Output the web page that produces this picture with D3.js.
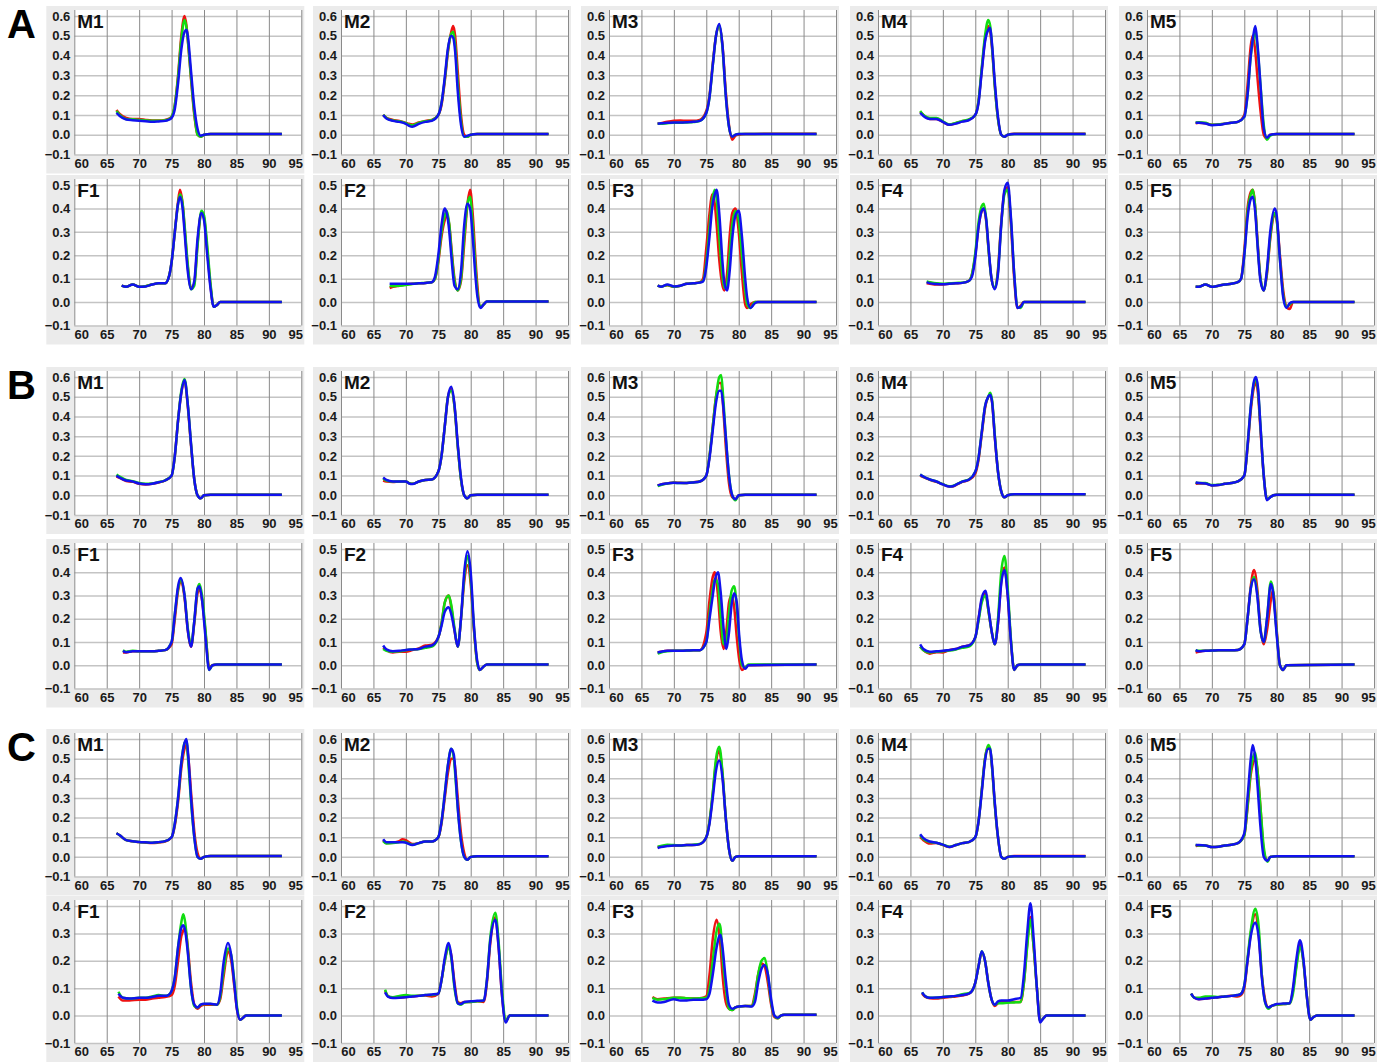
<!DOCTYPE html>
<html>
<head>
<meta charset="utf-8">
<script src="https://cdn.jsdelivr.net/npm/d3@7"></script>
<style>
  body { margin: 0; background: #fff; }
  text { font-family: "Liberation Sans", Arial, sans-serif; font-weight: bold; }
</style>
</head>
<body>
<svg width="1390" height="1063"></svg>
<script>
// ---- tick labels / names ----
const xTicks = [60, 65, 70, 75, 80, 85, 90, 95];
const yTicksM = [-0.1, 0, 0.1, 0.2, 0.3, 0.4, 0.5, 0.6];
const yTicksF = [-0.1, 0, 0.1, 0.2, 0.3, 0.4, 0.5];
const yTicksFC = [-0.1, 0, 0.1, 0.2, 0.3, 0.4];
const groups = ["A", "B", "C"];
const maleNames = ["M1", "M2", "M3", "M4", "M5"];
const femaleNames = ["F1", "F2", "F3", "F4", "F5"];
const seriesColors = ["#ee1111", "#11dd11", "#1111ee"]; // red, green, blue

// ---- melt curves: [temperature, red, green, blue] per panel ----
const A_M1 = [
  [66.5, 67, 68, 69, 70, 71, 72, 73, 74, 74.5, 75, 75.5, 76, 76.5, 77, 77.3, 77.5, 78, 78.5, 79, 79.5, 80, 81, 92],
  [0.125, 0.105, 0.085, 0.08, 0.08, 0.075, 0.072, 0.072, 0.075, 0.08, 0.09, 0.15, 0.3, 0.5, 0.6, 0.55, 0.48, 0.28, 0.1, 0.0, -0.01, 0.0, 0.003, 0.003],
  [0.12, 0.1, 0.08, 0.078, 0.075, 0.072, 0.07, 0.07, 0.073, 0.078, 0.09, 0.15, 0.29, 0.48, 0.58, 0.54, 0.48, 0.29, 0.11, 0.0, -0.01, 0.0, 0.003, 0.003],
  [0.11, 0.095, 0.077, 0.073, 0.07, 0.068, 0.065, 0.067, 0.07, 0.075, 0.085, 0.13, 0.26, 0.43, 0.52, 0.53, 0.5, 0.32, 0.14, 0.03, -0.005, 0.0, 0.003, 0.003]
];
const A_M2 = [
  [66.5, 67, 68, 69, 70, 70.5, 71, 72, 73, 74, 75, 75.5, 76, 76.5, 77, 77.3, 77.6, 78, 78.5, 79, 79.5, 80, 81, 92],
  [0.10, 0.085, 0.075, 0.07, 0.06, 0.055, 0.052, 0.062, 0.07, 0.075, 0.1, 0.15, 0.27, 0.42, 0.52, 0.55, 0.5, 0.32, 0.1, 0.0, -0.01, 0.0, 0.003, 0.003],
  [0.10, 0.085, 0.072, 0.068, 0.058, 0.05, 0.048, 0.06, 0.068, 0.073, 0.1, 0.16, 0.28, 0.43, 0.51, 0.52, 0.45, 0.26, 0.07, -0.01, -0.01, 0.0, 0.003, 0.003],
  [0.10, 0.082, 0.07, 0.065, 0.055, 0.045, 0.04, 0.055, 0.065, 0.07, 0.1, 0.16, 0.29, 0.44, 0.5, 0.49, 0.42, 0.22, 0.05, -0.01, -0.005, 0.0, 0.003, 0.003]
];
const A_M3 = [
  [67.5, 68, 69, 70, 71, 72, 73, 74, 75, 75.5, 76, 76.5, 77, 77.5, 78, 78.5, 79, 79.5, 80, 81, 85, 92],
  [0.055, 0.058, 0.065, 0.07, 0.072, 0.07, 0.07, 0.075, 0.12, 0.2, 0.36, 0.5, 0.55, 0.45, 0.22, 0.05, -0.025, -0.005, 0.0, 0.003, 0.005, 0.005],
  [0.055, 0.055, 0.058, 0.06, 0.06, 0.062, 0.064, 0.07, 0.11, 0.19, 0.35, 0.5, 0.55, 0.44, 0.2, 0.04, -0.01, 0.0, 0.003, 0.003, 0.003, 0.003],
  [0.055, 0.058, 0.06, 0.062, 0.062, 0.063, 0.065, 0.07, 0.11, 0.19, 0.35, 0.5, 0.56, 0.45, 0.2, 0.04, -0.01, 0.0, 0.003, 0.003, 0.003, 0.003]
];
const A_M4 = [
  [66.5, 67, 68, 69, 70, 71, 72, 73, 74, 75, 75.5, 76, 76.5, 77, 77.3, 77.6, 78, 78.5, 79, 79.5, 80, 81, 92],
  [0.115, 0.1, 0.08, 0.08, 0.065, 0.05, 0.058, 0.068, 0.075, 0.1, 0.17, 0.33, 0.48, 0.55, 0.52, 0.43, 0.25, 0.08, 0.0, -0.01, 0.0, 0.005, 0.005],
  [0.12, 0.1, 0.085, 0.085, 0.068, 0.052, 0.06, 0.07, 0.078, 0.1, 0.17, 0.34, 0.5, 0.58, 0.55, 0.44, 0.25, 0.08, 0.0, -0.01, 0.0, 0.003, 0.003],
  [0.11, 0.095, 0.08, 0.08, 0.065, 0.05, 0.056, 0.066, 0.073, 0.1, 0.16, 0.32, 0.47, 0.53, 0.54, 0.45, 0.27, 0.09, 0.0, -0.01, 0.0, 0.003, 0.003]
];
const A_M5 = [
  [67.5, 68, 69, 70, 71, 72, 73, 74, 75, 75.5, 76, 76.3, 76.7, 77, 77.5, 78, 78.5, 79, 80, 92],
  [0.058, 0.06, 0.058, 0.05, 0.052, 0.056, 0.06, 0.065, 0.1, 0.25, 0.45, 0.5, 0.42, 0.3, 0.12, 0.0, -0.02, 0.0, 0.003, 0.003],
  [0.062, 0.063, 0.06, 0.05, 0.052, 0.056, 0.06, 0.065, 0.09, 0.2, 0.4, 0.47, 0.52, 0.45, 0.25, 0.05, -0.025, -0.005, 0.003, 0.003],
  [0.06, 0.06, 0.057, 0.048, 0.05, 0.055, 0.06, 0.065, 0.09, 0.2, 0.4, 0.48, 0.55, 0.47, 0.25, 0.03, -0.015, 0.0, 0.003, 0.003]
];
const A_F1 = [
  [67.3, 68, 69, 70, 71, 72, 73, 74, 74.5, 75, 75.5, 76, 76.3, 76.7, 77, 77.5, 78, 78.5, 79, 79.6, 80, 80.5, 81, 81.5, 82, 82.5, 92],
  [0.07, 0.065, 0.075, 0.065, 0.068, 0.075, 0.08, 0.08, 0.1, 0.17, 0.3, 0.43, 0.48, 0.42, 0.32, 0.15, 0.06, 0.08, 0.25, 0.38, 0.36, 0.22, 0.07, -0.02, -0.012, 0.0, 0.0],
  [0.07, 0.065, 0.075, 0.065, 0.068, 0.075, 0.08, 0.08, 0.1, 0.17, 0.3, 0.42, 0.46, 0.42, 0.33, 0.16, 0.055, 0.07, 0.24, 0.39, 0.37, 0.24, 0.08, -0.02, -0.012, 0.0, 0.0],
  [0.07, 0.065, 0.075, 0.065, 0.067, 0.075, 0.08, 0.08, 0.1, 0.17, 0.3, 0.42, 0.45, 0.4, 0.3, 0.13, 0.055, 0.09, 0.27, 0.38, 0.35, 0.2, 0.06, -0.02, -0.012, 0.0, 0.0]
];
const A_F2 = [
  [67.5, 68, 69, 70, 71, 72, 73, 74, 74.5, 75, 75.5, 76, 76.3, 76.7, 77, 77.5, 78, 78.5, 79, 79.5, 79.9, 80.3, 80.7, 81, 81.5, 82, 82.5, 92],
  [0.06, 0.065, 0.07, 0.075, 0.078, 0.08, 0.082, 0.085, 0.1, 0.17, 0.28, 0.35, 0.37, 0.33, 0.24, 0.1, 0.05, 0.09, 0.25, 0.42, 0.48, 0.38, 0.2, 0.08, -0.02, -0.01, 0.003, 0.003],
  [0.07, 0.068, 0.07, 0.073, 0.077, 0.08, 0.082, 0.085, 0.1, 0.18, 0.3, 0.37, 0.39, 0.33, 0.23, 0.09, 0.05, 0.1, 0.28, 0.42, 0.45, 0.33, 0.16, 0.05, -0.02, -0.01, 0.003, 0.003],
  [0.078, 0.078, 0.078, 0.078, 0.078, 0.08, 0.082, 0.085, 0.11, 0.2, 0.33, 0.4, 0.38, 0.3, 0.2, 0.07, 0.055, 0.13, 0.33, 0.42, 0.4, 0.28, 0.12, 0.03, -0.025, -0.01, 0.003, 0.003]
];
const A_F3 = [
  [67.5, 68, 69, 70, 71, 72, 73, 74, 74.5, 75, 75.5, 75.9, 76.3, 76.6, 77, 77.5, 77.8, 78.2, 78.6, 79, 79.5, 80, 80.5, 81, 81.3, 81.8, 82.5, 83, 92],
  [0.07, 0.066, 0.072, 0.065, 0.07, 0.078, 0.08, 0.085, 0.1, 0.23, 0.38, 0.46, 0.42, 0.33, 0.18, 0.07, 0.05, 0.12, 0.28, 0.38, 0.4, 0.3, 0.12, -0.01, -0.025, -0.01, 0.0, 0.0, 0.0],
  [0.07, 0.066, 0.073, 0.066, 0.07, 0.078, 0.08, 0.084, 0.09, 0.17, 0.32, 0.43, 0.48, 0.44, 0.28, 0.11, 0.06, 0.08, 0.2, 0.33, 0.39, 0.35, 0.2, 0.05, -0.01, -0.025, 0.0, 0.0, 0.0],
  [0.07, 0.066, 0.075, 0.067, 0.07, 0.078, 0.08, 0.083, 0.088, 0.15, 0.28, 0.4, 0.46, 0.48, 0.38, 0.17, 0.08, 0.05, 0.13, 0.27, 0.37, 0.39, 0.28, 0.1, 0.02, -0.025, -0.005, 0.0, 0.0]
];
const A_F4 = [
  [67.5, 68, 69, 70, 71, 72, 73, 74, 74.5, 75, 75.5, 76, 76.3, 76.7, 77, 77.5, 78, 78.5, 79, 79.5, 80, 80.5, 81, 81.5, 82, 82.5, 92],
  [0.08, 0.078, 0.075, 0.075, 0.078, 0.08, 0.082, 0.09, 0.12, 0.2, 0.32, 0.39, 0.4, 0.34, 0.24, 0.1, 0.06, 0.14, 0.34, 0.47, 0.49, 0.33, 0.1, -0.025, -0.015, 0.0, 0.0],
  [0.088, 0.085, 0.08, 0.078, 0.08, 0.082, 0.083, 0.09, 0.12, 0.21, 0.34, 0.41, 0.42, 0.35, 0.24, 0.1, 0.06, 0.13, 0.33, 0.46, 0.48, 0.35, 0.12, -0.02, -0.025, 0.0, 0.0],
  [0.085, 0.08, 0.077, 0.076, 0.078, 0.08, 0.082, 0.09, 0.11, 0.19, 0.32, 0.39, 0.4, 0.35, 0.25, 0.1, 0.055, 0.12, 0.33, 0.48, 0.51, 0.36, 0.12, -0.025, -0.02, 0.0, 0.0]
];
const A_F5 = [
  [67.5, 68, 69, 70, 71, 72, 73, 74, 74.5, 75, 75.5, 76, 76.3, 76.7, 77, 77.5, 78, 78.5, 79, 79.7, 80, 80.5, 81, 81.5, 82, 82.5, 92],
  [0.065, 0.065, 0.075, 0.065, 0.07, 0.075, 0.078, 0.085, 0.1, 0.22, 0.4, 0.47, 0.48, 0.4, 0.28, 0.1, 0.05, 0.12, 0.27, 0.37, 0.35, 0.2, 0.05, -0.02, -0.03, 0.0, 0.0],
  [0.065, 0.065, 0.075, 0.065, 0.07, 0.075, 0.078, 0.085, 0.1, 0.2, 0.38, 0.46, 0.48, 0.4, 0.27, 0.1, 0.05, 0.13, 0.28, 0.38, 0.35, 0.18, 0.03, -0.02, -0.01, 0.0, 0.0],
  [0.065, 0.065, 0.075, 0.065, 0.07, 0.075, 0.078, 0.085, 0.1, 0.2, 0.36, 0.44, 0.45, 0.38, 0.26, 0.09, 0.05, 0.14, 0.3, 0.4, 0.37, 0.18, 0.02, -0.025, -0.005, 0.0, 0.0]
];
const B_M1 = [
  [66.5, 67, 68, 69, 70, 71, 72, 73, 74, 75, 75.5, 76, 76.5, 77, 77.5, 78, 78.5, 79, 79.5, 80, 81, 92],
  [0.095, 0.088, 0.072, 0.068, 0.058, 0.055, 0.058, 0.065, 0.075, 0.1, 0.2, 0.38, 0.52, 0.58, 0.45, 0.25, 0.08, 0.0, -0.015, 0.0, 0.003, 0.003],
  [0.105, 0.095, 0.078, 0.072, 0.062, 0.058, 0.06, 0.067, 0.076, 0.1, 0.2, 0.38, 0.53, 0.59, 0.46, 0.26, 0.08, 0.0, -0.015, 0.0, 0.003, 0.003],
  [0.1, 0.09, 0.075, 0.07, 0.06, 0.056, 0.059, 0.066, 0.075, 0.1, 0.2, 0.38, 0.52, 0.585, 0.46, 0.26, 0.08, 0.0, -0.015, 0.0, 0.003, 0.003]
];
const B_M2 = [
  [66.5, 67, 68, 69, 70, 70.5, 71, 72, 73, 74, 75, 75.5, 76, 76.5, 77, 77.5, 78, 78.5, 79, 79.5, 80, 81, 92],
  [0.075, 0.07, 0.068, 0.07, 0.07, 0.062, 0.058, 0.07, 0.078, 0.08, 0.12, 0.2, 0.35, 0.5, 0.54, 0.45, 0.25, 0.08, 0.0, -0.015, 0.0, 0.003, 0.003],
  [0.085, 0.075, 0.07, 0.07, 0.07, 0.062, 0.058, 0.07, 0.078, 0.08, 0.12, 0.2, 0.35, 0.5, 0.53, 0.45, 0.25, 0.08, 0.0, -0.015, 0.0, 0.003, 0.003],
  [0.09, 0.078, 0.07, 0.07, 0.07, 0.06, 0.057, 0.07, 0.078, 0.08, 0.12, 0.2, 0.35, 0.5, 0.55, 0.46, 0.26, 0.09, 0.0, -0.015, 0.0, 0.003, 0.003]
];
const B_M3 = [
  [67.5, 68, 69, 70, 71, 72, 73, 74, 75, 75.5, 76, 76.5, 77, 77.3, 77.6, 78, 78.5, 79, 79.5, 80, 81, 92],
  [0.05, 0.055, 0.06, 0.065, 0.063, 0.062, 0.066, 0.07, 0.1, 0.2, 0.35, 0.5, 0.57, 0.57, 0.45, 0.25, 0.06, -0.01, -0.02, 0.0, 0.003, 0.003],
  [0.047, 0.052, 0.06, 0.063, 0.062, 0.062, 0.065, 0.07, 0.1, 0.2, 0.35, 0.5, 0.6, 0.61, 0.5, 0.3, 0.1, 0.0, -0.025, 0.0, 0.003, 0.003],
  [0.05, 0.055, 0.06, 0.063, 0.062, 0.062, 0.065, 0.07, 0.1, 0.19, 0.33, 0.47, 0.53, 0.53, 0.46, 0.3, 0.1, 0.0, -0.02, 0.0, 0.003, 0.003]
];
const B_M4 = [
  [66.5, 67, 68, 69, 70, 71, 71.5, 72, 73, 74, 75, 75.5, 76, 76.5, 77, 77.3, 77.6, 78, 78.5, 79, 79.5, 80, 81, 92],
  [0.1, 0.092, 0.078, 0.068, 0.055, 0.045, 0.045, 0.052, 0.068, 0.078, 0.11, 0.18, 0.31, 0.44, 0.5, 0.51, 0.47, 0.3, 0.12, 0.02, -0.01, 0.0, 0.005, 0.005],
  [0.105, 0.095, 0.08, 0.07, 0.056, 0.046, 0.047, 0.054, 0.07, 0.08, 0.12, 0.19, 0.32, 0.45, 0.5, 0.52, 0.48, 0.31, 0.12, 0.02, -0.01, 0.0, 0.005, 0.005],
  [0.105, 0.095, 0.08, 0.07, 0.055, 0.044, 0.046, 0.053, 0.069, 0.079, 0.12, 0.19, 0.32, 0.45, 0.5, 0.51, 0.47, 0.3, 0.12, 0.02, -0.01, 0.0, 0.005, 0.005]
];
const B_M5 = [
  [67.5, 68, 69, 70, 71, 72, 73, 74, 75, 75.5, 76, 76.5, 76.8, 77.1, 77.5, 78, 78.5, 79, 79.5, 80, 92],
  [0.058, 0.06, 0.06, 0.05, 0.052, 0.058, 0.062, 0.07, 0.1, 0.24, 0.43, 0.55, 0.57, 0.52, 0.33, 0.1, -0.02, -0.01, 0.0, 0.003, 0.003],
  [0.065, 0.062, 0.062, 0.052, 0.053, 0.058, 0.062, 0.07, 0.1, 0.25, 0.45, 0.57, 0.59, 0.54, 0.35, 0.1, -0.02, -0.01, 0.0, 0.003, 0.003],
  [0.065, 0.062, 0.06, 0.05, 0.052, 0.058, 0.062, 0.07, 0.1, 0.25, 0.45, 0.58, 0.6, 0.55, 0.35, 0.1, -0.025, -0.01, 0.0, 0.003, 0.003]
];
const B_F1 = [
  [67.5, 68, 69, 70, 71, 72, 73, 74, 75, 75.5, 76, 76.4, 77, 77.5, 78, 78.5, 79, 79.3, 79.7, 80.2, 80.8, 81.3, 82, 92],
  [0.055, 0.055, 0.06, 0.06, 0.06, 0.06, 0.062, 0.065, 0.09, 0.2, 0.32, 0.36, 0.29, 0.15, 0.08, 0.18, 0.31, 0.33, 0.28, 0.15, -0.01, 0.0, 0.003, 0.003],
  [0.065, 0.058, 0.062, 0.06, 0.06, 0.06, 0.062, 0.065, 0.1, 0.22, 0.33, 0.37, 0.3, 0.16, 0.085, 0.19, 0.33, 0.35, 0.3, 0.16, -0.02, 0.0, 0.003, 0.003],
  [0.062, 0.056, 0.06, 0.06, 0.06, 0.06, 0.062, 0.065, 0.1, 0.22, 0.34, 0.375, 0.3, 0.15, 0.08, 0.19, 0.33, 0.34, 0.28, 0.13, -0.02, 0.0, 0.003, 0.003]
];
const B_F2 = [
  [66.5, 67, 68, 69, 70, 71, 72, 73, 74, 75, 75.5, 76, 76.6, 77, 77.5, 78, 78.5, 79, 79.5, 80, 80.5, 81, 81.4, 82, 82.5, 92],
  [0.075, 0.065, 0.055, 0.058, 0.058, 0.065, 0.072, 0.085, 0.088, 0.12, 0.18, 0.27, 0.3, 0.25, 0.15, 0.08, 0.2, 0.36, 0.43, 0.35, 0.15, 0.01, -0.02, -0.005, 0.003, 0.003],
  [0.07, 0.062, 0.058, 0.06, 0.065, 0.068, 0.07, 0.075, 0.08, 0.12, 0.18, 0.27, 0.3, 0.26, 0.16, 0.08, 0.2, 0.38, 0.47, 0.37, 0.16, 0.01, -0.02, -0.005, 0.003, 0.003],
  [0.085, 0.068, 0.06, 0.062, 0.066, 0.068, 0.07, 0.08, 0.085, 0.12, 0.17, 0.23, 0.25, 0.22, 0.15, 0.08, 0.2, 0.4, 0.49, 0.4, 0.17, 0.02, -0.02, -0.005, 0.003, 0.003]
];
const B_F3 = [
  [67.5, 68, 69, 70, 71, 72, 73, 74, 75, 75.5, 76, 76.3, 76.8, 77.2, 77.7, 78.1, 78.5, 78.9, 79.3, 79.7, 80.1, 80.5, 81, 81.5, 92],
  [0.055, 0.058, 0.062, 0.062, 0.062, 0.063, 0.065, 0.065, 0.14, 0.28, 0.38, 0.4, 0.3, 0.15, 0.07, 0.15, 0.27, 0.3, 0.25, 0.12, 0.02, -0.02, -0.01, 0.0, 0.003],
  [0.05, 0.055, 0.06, 0.062, 0.062, 0.063, 0.065, 0.065, 0.1, 0.22, 0.33, 0.37, 0.35, 0.22, 0.09, 0.1, 0.22, 0.32, 0.34, 0.25, 0.1, 0.0, -0.01, 0.003, 0.003],
  [0.055, 0.058, 0.062, 0.062, 0.062, 0.063, 0.065, 0.065, 0.1, 0.2, 0.3, 0.36, 0.4, 0.32, 0.15, 0.07, 0.14, 0.26, 0.31, 0.27, 0.12, 0.02, -0.015, 0.0, 0.003]
];
const B_F4 = [
  [66.5, 67, 68, 69, 70, 71, 72, 73, 74, 75, 75.5, 76, 76.6, 77, 77.5, 78, 78.5, 79, 79.5, 80, 80.5, 81, 81.5, 82, 92],
  [0.08, 0.065, 0.05, 0.056, 0.055, 0.065, 0.07, 0.08, 0.085, 0.12, 0.2, 0.28, 0.31, 0.24, 0.15, 0.09, 0.18, 0.36, 0.42, 0.3, 0.1, -0.02, 0.0, 0.003, 0.003],
  [0.08, 0.065, 0.055, 0.058, 0.06, 0.063, 0.068, 0.075, 0.08, 0.12, 0.19, 0.27, 0.3, 0.24, 0.15, 0.09, 0.2, 0.4, 0.47, 0.33, 0.11, -0.02, 0.0, 0.003, 0.003],
  [0.09, 0.07, 0.058, 0.06, 0.062, 0.066, 0.07, 0.08, 0.085, 0.12, 0.2, 0.29, 0.32, 0.25, 0.15, 0.09, 0.18, 0.35, 0.41, 0.3, 0.1, -0.02, 0.0, 0.003, 0.003]
];
const B_F5 = [
  [67.5, 68, 69, 70, 71, 72, 73, 74, 75, 75.5, 76, 76.5, 77, 77.5, 78, 78.5, 79.1, 79.4, 80, 80.5, 81, 81.5, 92],
  [0.055, 0.058, 0.062, 0.063, 0.065, 0.065, 0.065, 0.066, 0.09, 0.2, 0.34, 0.41, 0.33, 0.16, 0.09, 0.15, 0.28, 0.32, 0.15, 0.0, -0.02, 0.0, 0.003],
  [0.065, 0.062, 0.062, 0.063, 0.065, 0.065, 0.065, 0.066, 0.09, 0.2, 0.33, 0.38, 0.31, 0.15, 0.1, 0.2, 0.36, 0.33, 0.14, 0.0, -0.02, 0.0, 0.003],
  [0.065, 0.06, 0.062, 0.063, 0.065, 0.065, 0.065, 0.066, 0.09, 0.2, 0.33, 0.37, 0.3, 0.15, 0.1, 0.2, 0.35, 0.32, 0.13, 0.0, -0.02, 0.0, 0.003]
];
const C_M1 = [
  [66.5, 67, 68, 69, 70, 71, 72, 73, 74, 75, 75.5, 76, 76.5, 77, 77.3, 77.6, 78, 78.5, 79, 79.5, 80, 81, 92],
  [0.12, 0.11, 0.085, 0.08, 0.075, 0.072, 0.07, 0.073, 0.078, 0.1, 0.16, 0.28, 0.45, 0.55, 0.57, 0.5, 0.33, 0.13, 0.02, -0.01, 0.0, 0.005, 0.005],
  [0.12, 0.11, 0.085, 0.08, 0.076, 0.074, 0.072, 0.075, 0.08, 0.1, 0.17, 0.3, 0.48, 0.58, 0.59, 0.47, 0.28, 0.1, 0.0, -0.01, 0.0, 0.005, 0.005],
  [0.12, 0.11, 0.085, 0.08, 0.076, 0.074, 0.072, 0.075, 0.08, 0.1, 0.17, 0.3, 0.48, 0.58, 0.6, 0.5, 0.3, 0.1, 0.0, -0.01, 0.0, 0.005, 0.005]
];
const C_M2 = [
  [66.5, 67, 68, 69, 69.5, 70, 71, 72, 73, 74, 75, 75.5, 76, 76.5, 77, 77.4, 77.7, 78, 78.5, 79, 79.5, 80, 81, 92],
  [0.085, 0.07, 0.072, 0.08, 0.09, 0.085, 0.065, 0.07, 0.078, 0.078, 0.1, 0.17, 0.3, 0.43, 0.5, 0.5, 0.42, 0.3, 0.12, 0.02, -0.015, 0.0, 0.003, 0.003],
  [0.08, 0.068, 0.07, 0.075, 0.078, 0.075, 0.062, 0.07, 0.078, 0.078, 0.1, 0.18, 0.32, 0.47, 0.55, 0.5, 0.38, 0.25, 0.08, 0.0, -0.015, 0.0, 0.003, 0.003],
  [0.09, 0.075, 0.075, 0.075, 0.075, 0.072, 0.06, 0.07, 0.078, 0.078, 0.1, 0.18, 0.32, 0.47, 0.55, 0.52, 0.4, 0.25, 0.08, 0.0, -0.015, 0.0, 0.003, 0.003]
];
const C_M3 = [
  [67.5, 68, 69, 70, 71, 72, 73, 74, 75, 75.5, 76, 76.5, 77, 77.5, 78, 78.5, 79, 79.5, 80, 92],
  [0.05, 0.052, 0.058, 0.058, 0.058, 0.06, 0.06, 0.065, 0.1, 0.18, 0.32, 0.48, 0.54, 0.42, 0.2, 0.04, -0.02, 0.0, 0.003, 0.003],
  [0.052, 0.055, 0.062, 0.06, 0.058, 0.06, 0.062, 0.066, 0.1, 0.18, 0.33, 0.5, 0.56, 0.43, 0.2, 0.04, -0.02, 0.0, 0.003, 0.003],
  [0.045, 0.05, 0.055, 0.058, 0.058, 0.06, 0.06, 0.065, 0.1, 0.17, 0.3, 0.44, 0.49, 0.4, 0.2, 0.04, -0.02, 0.0, 0.003, 0.003]
];
const C_M4 = [
  [66.5, 67, 68, 69, 70, 71, 72, 73, 74, 75, 75.5, 76, 76.5, 77, 77.3, 77.6, 78, 78.5, 79, 79.5, 80, 81, 92],
  [0.1, 0.085, 0.068, 0.07, 0.06, 0.05, 0.06, 0.07, 0.075, 0.1, 0.18, 0.34, 0.5, 0.56, 0.54, 0.45, 0.27, 0.1, 0.0, -0.01, 0.0, 0.005, 0.005],
  [0.11, 0.09, 0.075, 0.072, 0.062, 0.052, 0.06, 0.07, 0.075, 0.1, 0.18, 0.34, 0.5, 0.57, 0.55, 0.45, 0.27, 0.1, 0.0, -0.01, 0.0, 0.003, 0.003],
  [0.115, 0.095, 0.078, 0.072, 0.062, 0.05, 0.06, 0.07, 0.075, 0.1, 0.18, 0.33, 0.49, 0.55, 0.55, 0.46, 0.28, 0.1, 0.0, -0.01, 0.0, 0.003, 0.003]
];
const C_M5 = [
  [67.5, 68, 69, 70, 71, 72, 73, 74, 75, 75.5, 76, 76.3, 76.7, 77, 77.5, 78, 78.6, 79, 80, 92],
  [0.055, 0.058, 0.058, 0.05, 0.052, 0.058, 0.062, 0.07, 0.11, 0.25, 0.42, 0.47, 0.5, 0.45, 0.25, 0.03, -0.02, 0.0, 0.003, 0.003],
  [0.06, 0.058, 0.058, 0.05, 0.052, 0.058, 0.062, 0.07, 0.11, 0.26, 0.44, 0.5, 0.53, 0.45, 0.25, 0.05, -0.025, 0.0, 0.003, 0.003],
  [0.06, 0.06, 0.058, 0.05, 0.052, 0.058, 0.062, 0.07, 0.12, 0.3, 0.5, 0.57, 0.5, 0.38, 0.15, 0.0, -0.02, 0.0, 0.003, 0.003]
];
const C_F1 = [
  [66.8, 67.5, 68.5, 70, 71, 72, 73, 74, 74.5, 75, 75.5, 76, 76.5, 76.8, 77.1, 77.5, 78, 78.5, 79, 79.5, 80, 81, 82, 82.5, 83, 83.7, 84.2, 84.7, 85.1, 85.6, 86.5, 92],
  [0.07, 0.055, 0.055, 0.058, 0.058, 0.062, 0.065, 0.068, 0.07, 0.075, 0.11, 0.2, 0.29, 0.31, 0.32, 0.25, 0.12, 0.04, 0.025, 0.035, 0.04, 0.04, 0.04, 0.06, 0.14, 0.235, 0.2, 0.1, 0.02, -0.015, 0.0, 0.0],
  [0.087, 0.065, 0.062, 0.065, 0.065, 0.07, 0.075, 0.072, 0.075, 0.09, 0.14, 0.25, 0.34, 0.37, 0.34, 0.24, 0.1, 0.035, 0.03, 0.04, 0.042, 0.042, 0.04, 0.07, 0.16, 0.245, 0.22, 0.12, 0.03, -0.015, 0.0, 0.0],
  [0.08, 0.065, 0.062, 0.065, 0.065, 0.068, 0.072, 0.072, 0.075, 0.09, 0.14, 0.25, 0.32, 0.33, 0.31, 0.23, 0.1, 0.04, 0.03, 0.04, 0.043, 0.043, 0.04, 0.08, 0.19, 0.265, 0.22, 0.11, 0.02, -0.015, 0.0, 0.0]
];
const C_F2 = [
  [66.8, 67.3, 68, 69, 70, 71, 72, 73, 74, 75, 75.5, 76, 76.6, 77, 77.5, 78, 78.5, 79, 80, 81, 82, 82.5, 83, 83.8, 84.3, 84.8, 85.4, 86, 92],
  [0.09, 0.07, 0.065, 0.066, 0.068, 0.07, 0.072, 0.073, 0.07, 0.08, 0.13, 0.2, 0.25, 0.22, 0.12, 0.05, 0.045, 0.05, 0.05, 0.052, 0.05, 0.12, 0.26, 0.36, 0.25, 0.08, -0.02, 0.0, 0.0],
  [0.095, 0.07, 0.067, 0.072, 0.075, 0.072, 0.072, 0.075, 0.075, 0.08, 0.13, 0.2, 0.25, 0.21, 0.1, 0.045, 0.04, 0.048, 0.05, 0.052, 0.055, 0.13, 0.28, 0.375, 0.27, 0.1, -0.02, 0.0, 0.0],
  [0.085, 0.068, 0.064, 0.065, 0.067, 0.07, 0.072, 0.075, 0.077, 0.08, 0.13, 0.21, 0.265, 0.22, 0.11, 0.045, 0.042, 0.05, 0.052, 0.054, 0.055, 0.13, 0.27, 0.35, 0.25, 0.08, -0.025, 0.0, 0.0]
];
const C_F3 = [
  [66.7, 67.5, 68.5, 70, 71, 72, 73, 74, 75, 75.5, 76, 76.6, 77, 77.2, 77.5, 78, 78.5, 79, 79.5, 80, 81, 82, 82.5, 83, 83.5, 84, 84.5, 85, 85.5, 86, 86.5, 87, 92],
  [0.068, 0.06, 0.062, 0.065, 0.065, 0.063, 0.062, 0.063, 0.07, 0.15, 0.28, 0.35, 0.3, 0.25, 0.15, 0.05, 0.025, 0.02, 0.03, 0.033, 0.035, 0.035, 0.08, 0.15, 0.19, 0.18, 0.12, 0.04, -0.005, -0.01, 0.0, 0.003, 0.003],
  [0.065, 0.058, 0.06, 0.065, 0.065, 0.063, 0.062, 0.063, 0.065, 0.1, 0.2, 0.31, 0.335, 0.32, 0.22, 0.1, 0.025, 0.02, 0.03, 0.033, 0.035, 0.035, 0.07, 0.15, 0.2, 0.21, 0.15, 0.05, 0.0, -0.01, 0.0, 0.003, 0.003],
  [0.055, 0.048, 0.05, 0.06, 0.055, 0.055, 0.058, 0.058, 0.06, 0.08, 0.15, 0.25, 0.29, 0.295, 0.25, 0.13, 0.04, 0.025, 0.03, 0.033, 0.035, 0.033, 0.05, 0.12, 0.17, 0.185, 0.15, 0.06, 0.0, -0.008, 0.0, 0.003, 0.003]
];
const C_F4 = [
  [66.8, 67.3, 68, 69, 70, 71, 72, 73, 74, 74.5, 75, 75.5, 76, 76.5, 77, 77.5, 78, 78.5, 79, 80, 81, 82, 82.5, 83, 83.5, 84, 84.5, 85, 85.5, 86, 92],
  [0.08, 0.068, 0.063, 0.062, 0.065, 0.068, 0.07, 0.073, 0.08, 0.09, 0.12, 0.18, 0.23, 0.2, 0.12, 0.06, 0.035, 0.045, 0.05, 0.05, 0.05, 0.05, 0.12, 0.26, 0.36, 0.25, 0.1, -0.02, -0.01, 0.0, 0.0],
  [0.085, 0.07, 0.065, 0.065, 0.068, 0.07, 0.072, 0.078, 0.082, 0.09, 0.12, 0.18, 0.235, 0.2, 0.12, 0.06, 0.04, 0.045, 0.045, 0.047, 0.048, 0.05, 0.12, 0.25, 0.35, 0.25, 0.1, -0.02, -0.01, 0.0, 0.0],
  [0.085, 0.07, 0.065, 0.066, 0.068, 0.07, 0.072, 0.075, 0.08, 0.09, 0.12, 0.18, 0.235, 0.2, 0.12, 0.06, 0.04, 0.052, 0.055, 0.055, 0.06, 0.065, 0.15, 0.3, 0.41, 0.28, 0.1, -0.025, -0.01, 0.0, 0.0]
];
const C_F5 = [
  [66.8, 67.3, 68, 69, 70, 71, 72, 73, 74, 74.5, 75, 75.5, 76, 76.7, 77.2, 77.7, 78.2, 78.7, 79.2, 80, 81, 82, 82.5, 83, 83.6, 84.1, 84.6, 85.2, 85.7, 86.2, 92],
  [0.08, 0.065, 0.06, 0.062, 0.065, 0.067, 0.07, 0.072, 0.07, 0.075, 0.1, 0.2, 0.3, 0.37, 0.3, 0.15, 0.06, 0.03, 0.035, 0.04, 0.042, 0.045, 0.09, 0.18, 0.26, 0.2, 0.08, -0.015, -0.005, 0.0, 0.0],
  [0.08, 0.065, 0.065, 0.07, 0.07, 0.068, 0.07, 0.072, 0.075, 0.08, 0.11, 0.21, 0.31, 0.39, 0.33, 0.15, 0.05, 0.025, 0.035, 0.04, 0.042, 0.045, 0.08, 0.17, 0.25, 0.2, 0.08, -0.015, -0.005, 0.0, 0.0],
  [0.08, 0.065, 0.06, 0.062, 0.065, 0.067, 0.07, 0.072, 0.075, 0.08, 0.11, 0.2, 0.29, 0.34, 0.29, 0.14, 0.05, 0.03, 0.035, 0.042, 0.044, 0.045, 0.1, 0.2, 0.275, 0.21, 0.08, -0.015, -0.005, 0.0, 0.0]
];

const panelRows = [
  [A_M1, A_M2, A_M3, A_M4, A_M5],
  [A_F1, A_F2, A_F3, A_F4, A_F5],
  [B_M1, B_M2, B_M3, B_M4, B_M5],
  [B_F1, B_F2, B_F3, B_F4, B_F5],
  [C_M1, C_M2, C_M3, C_M4, C_M5],
  [C_F1, C_F2, C_F3, C_F4, C_F5]
];

// ---- layout ----
const colLeft = [74.3, 341, 609, 878, 1147];
const plotW = 227;
const rowLayout = [
  { top: 10, bottom: 154.5, ticks: yTicksM, names: maleNames, group: 0 },
  { top: 179, bottom: 325.5, ticks: yTicksF, names: femaleNames },
  { top: 371, bottom: 515, ticks: yTicksM, names: maleNames, group: 1 },
  { top: 543, bottom: 688.5, ticks: yTicksF, names: femaleNames },
  { top: 733, bottom: 876.5, ticks: yTicksM, names: maleNames, group: 2 },
  { top: 900, bottom: 1043, ticks: yTicksFC, names: femaleNames }
];

const svg = d3.select("svg");
const tickFont = "'Liberation Sans', Arial, sans-serif";

rowLayout.forEach((row, ri) => {
  if (row.group !== undefined) {
    svg.append("text")
      .attr("x", 7).attr("y", row.top + 28)
      .style("font-size", "40px")
      .style("fill", "#000")
      .text(groups[row.group]);
  }

  colLeft.forEach((left, ci) => {
    const data = panelRows[ri][ci];
    const maxTick = row.ticks[row.ticks.length - 1];
    const x = d3.scaleLinear().domain([60, 95]).range([left, left + plotW]);
    const y = d3.scaleLinear().domain([-0.1, maxTick]).range([row.bottom, row.top + 6]);

    const g = svg.append("g");

    // grey frame + white plot area
    g.append("rect")
      .attr("x", left - 28).attr("y", row.top - 4)
      .attr("width", plotW + 31).attr("height", row.bottom - row.top + 23)
      .style("fill", "#ebebeb");
    g.append("rect")
      .attr("x", left).attr("y", row.top)
      .attr("width", plotW).attr("height", row.bottom - row.top)
      .style("fill", "#fff");

    // y axis + horizontal grid
    const yAxis = g.append("g")
      .attr("transform", `translate(${left},0)`)
      .call(d3.axisLeft(y).tickValues(row.ticks).tickSize(-plotW).tickPadding(4).tickFormat(d3.format(".1f")));
    yAxis.select(".domain").remove();
    yAxis.selectAll("line").style("stroke", "#c4c4c4").style("stroke-width", 1.5);
    yAxis.selectAll("text")
      .style("font-size", "13px").style("fill", "#1a1a1a")
      .style("font-family", tickFont);

    // x axis + vertical grid
    const xAxis = g.append("g")
      .attr("transform", `translate(0,${row.bottom})`)
      .call(d3.axisBottom(x).tickValues(xTicks).tickSize(-(row.bottom - row.top)).tickPadding(4));
    xAxis.select(".domain").remove();
    xAxis.selectAll("line").style("stroke", "#8a8a8a").style("stroke-width", 1);
    xAxis.selectAll("text")
      .style("font-size", "13px").style("fill", "#1a1a1a")
      .style("font-family", tickFont)
      .attr("dx", d => d === 60 ? 7 : d === 95 ? -6 : 0);

    // curves
    const temps = data[0];
    const line = d3.line()
      .x(d => x(d[0]))
      .y(d => y(d[1]))
      .curve(d3.curveMonotoneX);
    [1, 2, 3].forEach(si => {
      if (data[si].length !== temps.length) throw new Error(`length mismatch row ${ri} col ${ci} series ${si}`);
      const pts = temps.map((t, k) => [t, data[si][k]]);
      g.append("path")
        .datum(pts)
        .attr("d", line)
        .style("fill", "none")
        .style("stroke", seriesColors[si - 1])
        .style("stroke-width", 2.5)
        .style("stroke-linejoin", "round");
    });

    // panel name
    g.append("text")
      .attr("x", left + 3).attr("y", row.top + 18)
      .style("font-size", "19px")
      .style("fill", "#111")
      .text(row.names[ci]);
  });
});
</script>
</body>
</html>
